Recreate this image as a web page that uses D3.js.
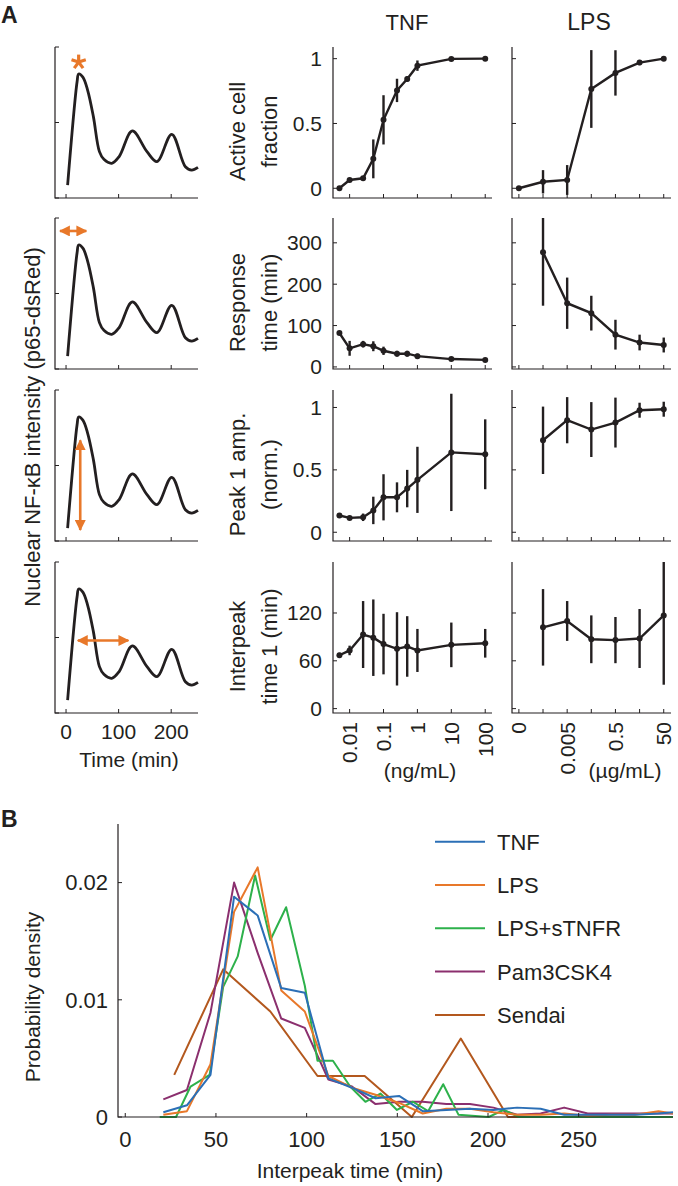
<!DOCTYPE html>
<html><head><meta charset="utf-8">
<script src="https://cdn.jsdelivr.net/npm/d3@7"></script>
<style>
body{margin:0;background:#fff;}
text{font-family:"Liberation Sans",Arial,Helvetica,sans-serif;fill:#231f20;}
</style></head><body>
<svg id="c" width="678" height="1186"></svg>
<script>
// ---------- DATA ----------
const traceTime  = [3, 21, 24, 32, 41, 52, 63.5, 72, 87, 101, 126, 154, 173, 201, 227, 239, 251];
const traceValue = [0.086, 0.77, 0.821, 0.80, 0.715, 0.539, 0.307, 0.256, 0.23, 0.274, 0.444, 0.307, 0.241, 0.422, 0.207, 0.185, 0.203];

const tnfDose = [0.005, 0.01, 0.025, 0.05, 0.1, 0.25, 0.5, 1, 10, 100];
const lpsDose = [0, 0.0005, 0.005, 0.05, 0.5, 5, 50];
const tnfTicks = [0.01, 0.1, 1, 10, 100];
const tnfTickLabels = ["0.01", "0.1", "1", "10", "100"];
const lpsTickLabels = ["0", "", "0.005", "", "0.5", "", "50"];

const rowLabels = [["Active cell", "fraction"], ["Response", "time (min)"], ["Peak 1 amp.", "(norm.)"], ["Interpeak", "time 1 (min)"]];
const rowTicks = [[0, 0.5, 1], [0, 100, 200, 300], [0, 0.5, 1], [0, 60, 120]];

const tnfActive    = [0, 0.064, 0.077, 0.227, 0.528, 0.755, 0.843, 0.946, 0.998, 1.0];
const tnfActiveErr = [0.01, 0.01, 0.01, 0.15, 0.19, 0.09, 0.02, 0.04, 0.01, 0.01];
const lpsActive    = [0, 0.05, 0.064, 0.766, 0.89, 0.97, 1.0];
const lpsActiveErr = [0, 0.09, 0.115, 0.30, 0.175, 0.02, 0.0];

const tnfResp    = [82, 45, 55, 50, 39, 32, 32, 26, 19, 17];
const tnfRespErr = [3, 18, 8, 12, 10, 7, 7, 6, 3, 3];
const lpsResp    = [null, 277, 154, 130, 78, 59, 53];
const lpsRespErr = [null, 129, 62, 42, 36, 19, 18];

const tnfPeak    = [0.134, 0.115, 0.12, 0.175, 0.28, 0.28, 0.35, 0.42, 0.64, 0.625];
const tnfPeakErr = [0.015, 0.015, 0.03, 0.11, 0.185, 0.12, 0.15, 0.265, 0.47, 0.28];
const lpsPeak    = [null, 0.737, 0.898, 0.823, 0.879, 0.978, 0.986];
const lpsPeakErr = [null, 0.27, 0.185, 0.22, 0.2, 0.06, 0.06];

const tnfInter    = [67, 73, 93, 89, 81, 75, 78, 73, 80, 82];
const tnfInterErr = [3, 6, 42, 48, 38, 46, 38, 27, 28, 18];
const lpsInter    = [null, 102, 110, 87, 86, 88, 117];
const lpsInterErr = [null, 48, 25, 30, 29, 37, 87];

// Panel B
const binX13 = [21, 34, 47, 60, 73, 86, 99, 112, 125, 138, 151, 164, 177, 190, 203, 216, 229, 242, 255, 268, 281, 294, 302];
const tnfDensity = [0.0004, 0.001, 0.0036, 0.0188, 0.0172, 0.011, 0.0106, 0.0033, 0.0025, 0.0016, 0.0018, 0.0005, 0.0006, 0.0007, 0.0006, 0.0008, 0.0007, 0.0002, 0.0002, 0.0002, 0.0002, 0.0003, 0.0004];
const lpsDensity = [0.0002, 0.0005, 0.0045, 0.0175, 0.0213, 0.0108, 0.009, 0.0035, 0.0025, 0.0019, 0.0012, 0.0003, 0.0007, 0.0007, 0.0004, 0.0002, 0.0002, 0.0003, 0.0001, 0.0002, 0.0002, 0.0005, 0.0003];
const pamDensity = [0.0015, 0.0023, 0.0089, 0.02, 0.014, 0.0084, 0.0076, 0.0032, 0.0026, 0.0011, 0.0013, 0.0013, 0.0011, 0.0011, 0.0008, 0.0002, 0.0003, 0.0008, 0.0003, 0.0003, 0.0003, 0.0003, 0.0003];
const stnfrX = [19, 28, 36, 46.5, 54, 62, 71.6, 80, 88.7, 99, 106, 114.5, 124, 132.4, 140.7, 149.8, 158.6, 167, 175.3, 183.7, 200.4, 208.7, 217, 302];
const stnfrDensity = [0, 0, 0.0026, 0.0036, 0.0111, 0.0137, 0.0206, 0.0151, 0.0179, 0.0112, 0.0048, 0.0048, 0.0026, 0.0013, 0.002, 0.0006, 0.0013, 0.0005, 0.0028, 0.0002, 0, 0.0006, 0, 0];
const sendaiX = [27, 54, 80, 106, 132, 158, 185, 211, 237, 264, 290, 302];
const sendaiDensity = [0.0036, 0.0126, 0.009, 0.0035, 0.0035, 0, 0.0067, 0, 0, 0, 0, 0];
const bSeries = ["TNF", "LPS", "LPS+sTNFR", "Pam3CSK4", "Sendai"];
const bColors = ["#2b6fb6", "#e8782a", "#2db14b", "#8b2f6e", "#b3581e"];
const bXTicks = [0, 50, 100, 150, 200, 250];
const bYTicks = [0, 0.01, 0.02];

// ---------- DRAW ----------
const svg = d3.select("#c");
const ink = "#231f20", orange = "#e8782a";
const defs = svg.append("defs");
defs.append("marker").attr("id", "ah").attr("viewBox", "0 0 10 10")
  .attr("refX", 9).attr("refY", 5).attr("markerUnits", "userSpaceOnUse")
  .attr("markerWidth", 11).attr("markerHeight", 11).attr("orient", "auto-start-reverse")
  .append("path").attr("d", "M0,0 L10,5 L0,10 z").attr("fill", orange);

svg.append("text").attr("x", 1).attr("y", 23).attr("font-weight", "bold").attr("font-size", 23).text("A");
svg.append("text").attr("x", 1).attr("y", 827).attr("font-weight", "bold").attr("font-size", 23).text("B");

const rowTop = [47, 218, 390, 562], rowH = 151;

// ----- left traces -----
const tX = d3.scaleLinear().domain([-21, 251]).range([55, 198]);
rowTop.forEach((top, r) => {
  const tY = d3.scaleLinear().domain([0, 1]).range([top + rowH, top]);
  const g = svg.append("g");
  g.append("path").attr("d", `M${tX.range()[0]},${top}V${top + rowH}H${tX.range()[1]}`).attr("fill", "none").attr("stroke", ink).attr("stroke-width", 1.2);
  [0, 0.5, 1].forEach(v => g.append("line").attr("x1", 55).attr("x2", 59).attr("y1", tY(v)).attr("y2", tY(v)).attr("stroke", ink));
  [0, 100, 200].forEach(v => g.append("line").attr("x1", tX(v)).attr("x2", tX(v)).attr("y1", top + rowH).attr("y2", top + rowH - 4).attr("stroke", ink));
  const line = d3.line().x((d, i) => tX(traceTime[i])).y(d => tY(d)).curve(d3.curveCatmullRom.alpha(0.5));
  g.append("path").attr("d", line(traceValue)).attr("fill", "none").attr("stroke", ink).attr("stroke-width", 2.8).attr("stroke-linejoin", "round");
  const arrow = (x1, y1, x2, y2) => {
    const dx = x2 - x1, dy = y2 - y1, L = Math.hypot(dx, dy), ux = dx / L, uy = dy / L, s = 5;
    g.append("line").attr("x1", x1 + ux * s).attr("y1", y1 + uy * s).attr("x2", x2 - ux * s).attr("y2", y2 - uy * s)
      .attr("stroke", orange).attr("stroke-width", 2.6).attr("marker-start", "url(#ah)").attr("marker-end", "url(#ah)");
  };
  if (r === 0) {
    const cx = tX(24), cy = tY(0.9);
    d3.range(5).forEach(k => {
      const a = -Math.PI / 2 + k * 2 * Math.PI / 5;
      g.append("line").attr("x1", cx).attr("y1", cy).attr("x2", cx + 7.5 * Math.cos(a)).attr("y2", cy + 7.5 * Math.sin(a))
        .attr("stroke", orange).attr("stroke-width", 3.2).attr("stroke-linecap", "butt");
    });
  }
  if (r === 1) arrow(tX(-21), tY(0.914), tX(48), tY(0.914));
  if (r === 2) arrow(tX(27), tY(0.70), tX(27), tY(0.04));
  if (r === 3) {
    arrow(tX(13), tY(0.48), tX(128), tY(0.48));
    [0, 100, 200].forEach(v => g.append("text").attr("x", tX(v)).attr("y", 739).attr("text-anchor", "middle").attr("font-size", 21).text(v));
    g.append("text").attr("x", 129).attr("y", 767).attr("text-anchor", "middle").attr("font-size", 21).text("Time (min)");
  }
});
svg.append("text").attr("transform", "translate(40,427) rotate(-90)").attr("text-anchor", "middle").attr("font-size", 22)
  .text("Nuclear NF-κB intensity (p65-dsRed)");

// ----- dose-response panels -----
const tnfX = d3.scaleLog().domain([Math.pow(10, -2.49), Math.pow(10, 2.2)]).range([333, 492]);
const lpsLog = d3.scaleLog().domain([Math.pow(10, -4.586), 100]).range([512, 671]);
const lpsX = d => lpsLog(d === 0 ? 5e-5 : d);
const yDomains = [[-0.075, 1.09], [-5, 360], [-0.07, 1.14], [-5.5, 184]];
const tnfRows = [[tnfActive, tnfActiveErr], [tnfResp, tnfRespErr], [tnfPeak, tnfPeakErr], [tnfInter, tnfInterErr]];
const lpsRows = [[lpsActive, lpsActiveErr], [lpsResp, lpsRespErr], [lpsPeak, lpsPeakErr], [lpsInter, lpsInterErr]];

svg.append("text").attr("x", 407).attr("y", 30).attr("text-anchor", "middle").attr("font-size", 22).text("TNF");
svg.append("text").attr("x", 589).attr("y", 30).attr("text-anchor", "middle").attr("font-size", 23).text("LPS");

function panel(r, x0, x1, xf, doses, vals, errs, isTnf) {
  const top = rowTop[r], bot = top + rowH;
  const y = d3.scaleLinear().domain(yDomains[r]).range([bot, top]);
  const g = svg.append("g");
  const cid = `clip${r}${isTnf ? "t" : "l"}`;
  defs.append("clipPath").attr("id", cid).append("rect").attr("x", x0 - 5).attr("y", top).attr("width", x1 - x0 + 10).attr("height", rowH);
  g.append("path").attr("d", `M${x0},${top}V${bot}H${x1}`).attr("fill", "none").attr("stroke", ink).attr("stroke-width", 1.2);
  rowTicks[r].forEach(v => {
    g.append("line").attr("x1", x0).attr("x2", x0 + 4).attr("y1", y(v)).attr("y2", y(v)).attr("stroke", ink);
    if (isTnf) g.append("text").attr("x", x0 - 11).attr("y", y(v)).attr("dy", "0.35em").attr("text-anchor", "end").attr("font-size", 21).text(v);
  });
  const xt = isTnf ? tnfTicks : doses;
  xt.forEach((v, i) => {
    g.append("line").attr("x1", xf(v)).attr("x2", xf(v)).attr("y1", bot).attr("y2", bot - 4).attr("stroke", ink);
    if (r === 3) {
      const lab = isTnf ? tnfTickLabels[i] : lpsTickLabels[i];
      if (lab) g.append("text").attr("transform", `translate(${xf(v)},${bot + 9}) rotate(-90)`).attr("dy", "0.35em").attr("text-anchor", "end").attr("font-size", 21).text(lab);
    }
  });
  if (isTnf) {
    const cy = (top + bot) / 2 + 9;
    g.append("text").attr("transform", `translate(245,${cy}) rotate(-90)`).attr("text-anchor", "middle").attr("font-size", 22).text(rowLabels[r][0]);
    g.append("text").attr("transform", `translate(277,${cy}) rotate(-90)`).attr("text-anchor", "middle").attr("font-size", 22).text(rowLabels[r][1]);
  }
  const d = g.append("g").attr("clip-path", `url(#${cid})`);
  const pts = doses.map((x, i) => ({ x, v: vals[i], e: errs[i] })).filter(p => p.v !== null);
  d.selectAll(".eb").data(pts).join("line").attr("x1", p => xf(p.x)).attr("x2", p => xf(p.x))
    .attr("y1", p => y(p.v - p.e)).attr("y2", p => y(p.v + p.e)).attr("stroke", ink).attr("stroke-width", 2.4);
  d.append("path").attr("d", d3.line().x(p => xf(p.x)).y(p => y(p.v))(pts)).attr("fill", "none").attr("stroke", ink).attr("stroke-width", 2.4);
  d.selectAll("circle").data(pts).join("circle").attr("cx", p => xf(p.x)).attr("cy", p => y(p.v)).attr("r", 3).attr("fill", ink);
}
for (let r = 0; r < 4; r++) {
  panel(r, 333, 492, tnfX, tnfDose, tnfRows[r][0], tnfRows[r][1], true);
  panel(r, 512, 671, lpsX, lpsDose, lpsRows[r][0], lpsRows[r][1], false);
}
svg.append("text").attr("x", 420).attr("y", 778).attr("text-anchor", "middle").attr("font-size", 21).text("(ng/mL)");
svg.append("text").attr("x", 625).attr("y", 778).attr("text-anchor", "middle").attr("font-size", 21).text("(µg/mL)");

// ----- panel B -----
const bx = d3.scaleLinear().domain([-4, 302]).range([118, 673]);
const by = d3.scaleLinear().domain([0, 0.025]).range([1117, 824]);
const gB = svg.append("g");
const bData = [[binX13, tnfDensity], [binX13, lpsDensity], [stnfrX, stnfrDensity], [binX13, pamDensity], [sendaiX, sendaiDensity]];
const drawOrder = [4, 3, 2, 1, 0];
drawOrder.forEach(k => {
  const [xs, ys] = bData[k];
  gB.append("path").attr("d", d3.line().x((v, i) => bx(xs[i])).y(v => by(v))(ys))
    .attr("fill", "none").attr("stroke", bColors[k]).attr("stroke-width", 2).attr("stroke-linejoin", "round");
});
gB.append("path").attr("d", `M${bx.range()[0]},${by.range()[1]}V${by.range()[0]}H${bx.range()[1]}`).attr("fill", "none").attr("stroke", ink).attr("stroke-width", 1.2);
bXTicks.forEach(v => {
  gB.append("line").attr("x1", bx(v)).attr("x2", bx(v)).attr("y1", 1117).attr("y2", 1113).attr("stroke", ink);
  gB.append("text").attr("x", bx(v)).attr("y", 1147).attr("text-anchor", "middle").attr("font-size", 22).text(v);
});
bYTicks.forEach(v => {
  gB.append("line").attr("x1", 118).attr("x2", 122).attr("y1", by(v)).attr("y2", by(v)).attr("stroke", ink);
  gB.append("text").attr("x", 108).attr("y", by(v)).attr("dy", "0.35em").attr("text-anchor", "end").attr("font-size", 22).text(v);
});
gB.append("text").attr("x", 350).attr("y", 1178).attr("text-anchor", "middle").attr("font-size", 21).text("Interpeak time (min)");
gB.append("text").attr("transform", "translate(40,997) rotate(-90)").attr("text-anchor", "middle").attr("font-size", 21).text("Probability density");
bSeries.forEach((s, i) => {
  const yy = 841.7 + i * 43.3;
  gB.append("line").attr("x1", 435).attr("x2", 485).attr("y1", yy).attr("y2", yy).attr("stroke", bColors[i]).attr("stroke-width", 2);
  gB.append("text").attr("x", 497).attr("y", yy).attr("dy", "0.36em").attr("font-size", 22).text(s);
});
</script>
</body></html>
